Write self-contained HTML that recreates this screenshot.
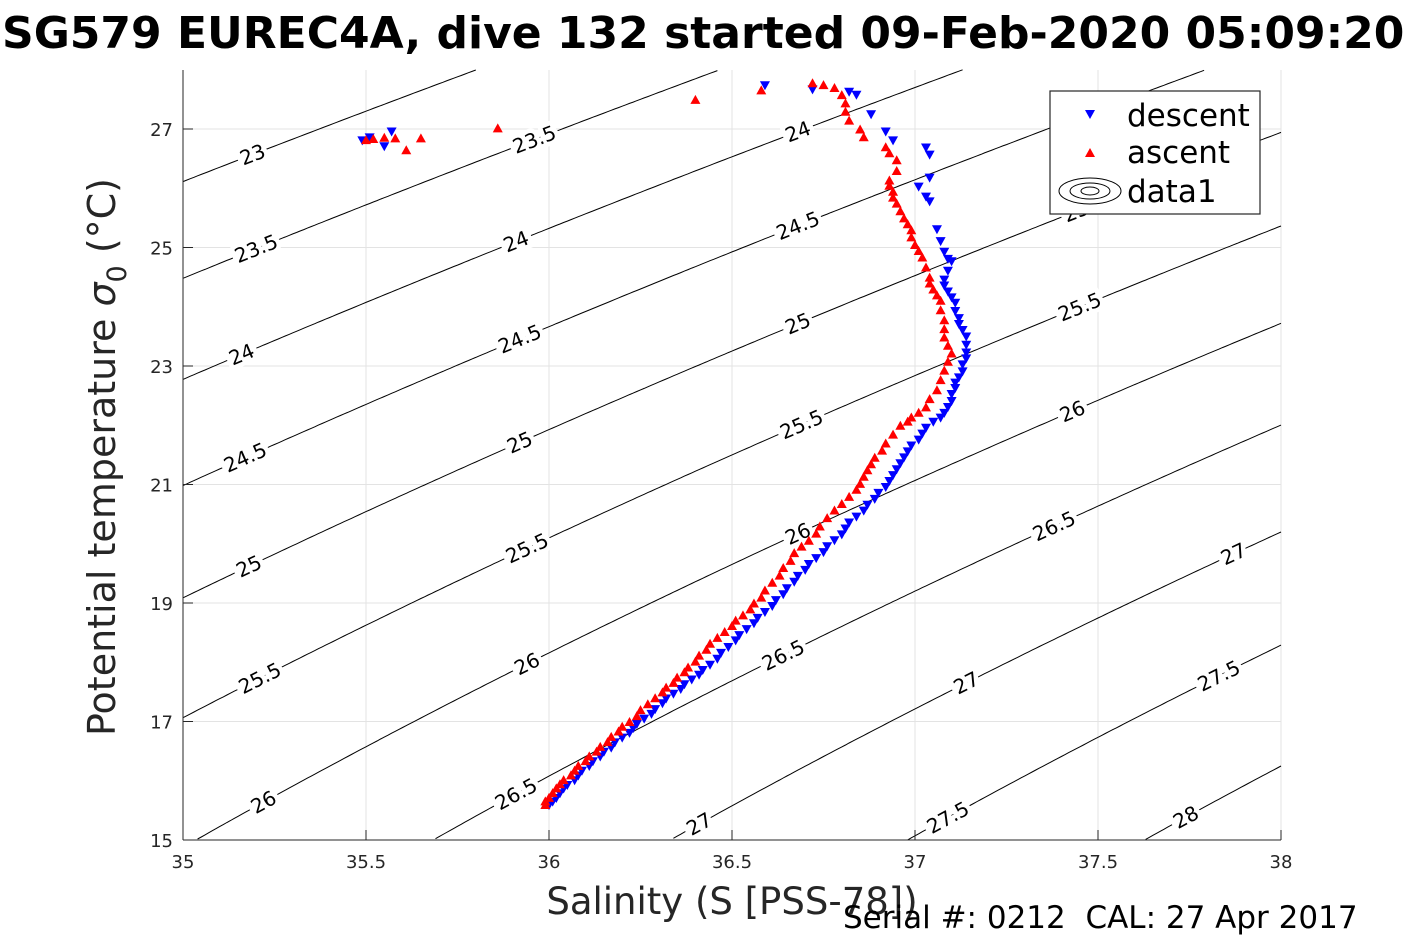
<!DOCTYPE html>
<html><head><meta charset="utf-8"><style>
body{margin:0;background:#fff;overflow:hidden}
svg{display:block;font-family:"Liberation Sans","DejaVu Sans",sans-serif}
</style></head><body>
<svg id="chart" width="1417" height="945" xmlns="http://www.w3.org/2000/svg">
<text x="2" y="48" font-size="44" font-weight="bold" font-family="DejaVu Sans, sans-serif">SG579 EUREC4A, dive 132 started 09-Feb-2020 05:09:20</text>
<g id="grid"></g><g id="contours"></g><g id="data"></g><g id="axes"></g>
<text x="732" y="914" font-size="37" text-anchor="middle" fill="#262626" font-family="DejaVu Sans, sans-serif">Salinity (S [PSS-78])</text>
<text transform="translate(115,457) rotate(-90)" font-size="38" text-anchor="middle" fill="#262626" font-family="DejaVu Sans, sans-serif">Potential temperature <tspan font-style="italic">σ</tspan><tspan font-size="27" dy="11">0</tspan><tspan dy="-11"> (°C)</tspan></text>
<text x="843" y="928" font-size="31" fill="#000" font-family="DejaVu Sans, sans-serif" style="white-space:pre">Serial #: 0212  CAL: 27 Apr 2017</text>
<g>
<rect x="1050" y="91" width="210" height="123" fill="#fff" stroke="#262626" stroke-width="1.2"/>
<path d="M1085,110 L1095,110 L1090,119 Z" fill="#00f"/>
<text x="1127" y="126" font-size="31" font-family="DejaVu Sans, sans-serif">descent</text>
<path d="M1085,157 L1095,157 L1090,148 Z" fill="#f00"/>
<text x="1127" y="163" font-size="31" font-family="DejaVu Sans, sans-serif">ascent</text>
<g fill="none" stroke="#000" stroke-width="1"><ellipse cx="1090" cy="191" rx="31" ry="13"/><ellipse cx="1090" cy="191" rx="20" ry="8"/><ellipse cx="1090" cy="191" rx="9" ry="4"/></g>
<text x="1127" y="202" font-size="31" font-family="DejaVu Sans, sans-serif">data1</text>
</g>
</svg>
<script>
const xTicks=[35,35.5,36,36.5,37,37.5,38];
const yTicks=[15,17,19,21,23,25,27];
const levels=[23,23.5,24,24.5,25,25.5,26,26.5,27,27.5,28];
const labelS={23:[35.19],23.5:[35.2,35.96],24:[35.16,35.91,36.68],24.5:[35.17,35.92,36.68],25:[35.18,35.92,36.68,37.44],25.5:[35.21,35.94,36.69,37.45],26:[35.22,35.94,36.68,37.43],26.5:[35.91,36.64,37.38],27:[36.41,37.14,37.87],27.5:[37.09,37.83],28:[37.74]};
// descent profile [salinity, temperature]
const descent=[[36.00,15.58],[36.01,15.64],[36.02,15.70],[36.03,15.78],[36.04,15.86],[36.05,15.92],[36.07,16.00],[36.08,16.08],[36.09,16.16],[36.11,16.24],[36.12,16.32],[36.14,16.40],[36.15,16.48],[36.17,16.55],[36.18,16.64],[36.20,16.72],[36.22,16.80],[36.23,16.88],[36.24,16.95],[36.26,17.04],[36.28,17.12],[36.29,17.20],[36.31,17.30],[36.32,17.38],[36.34,17.46],[36.36,17.54],[36.37,17.62],[36.39,17.70],[36.41,17.78],[36.42,17.86],[36.44,17.95],[36.46,18.05],[36.47,18.15],[36.49,18.25],[36.51,18.36],[36.52,18.45],[36.54,18.55],[36.56,18.65],[36.57,18.74],[36.59,18.84],[36.61,18.94],[36.62,19.04],[36.64,19.14],[36.65,19.24],[36.67,19.35],[36.68,19.45],[36.70,19.55],[36.71,19.65],[36.73,19.75],[36.75,19.85],[36.76,19.95],[36.78,20.05],[36.80,20.15],[36.81,20.25],[36.82,20.35],[36.84,20.45],[36.86,20.55],[36.87,20.65],[36.89,20.75],[36.90,20.85],[36.92,20.95],[36.93,21.05],[36.94,21.15],[36.95,21.25],[36.96,21.35],[36.97,21.45],[36.98,21.55],[36.99,21.65],[37.01,21.75],[37.02,21.85],[37.03,21.95],[37.05,22.05],[37.07,22.12],[37.08,22.20],[37.09,22.30],[37.10,22.40],[37.10,22.52],[37.11,22.62],[37.11,22.71],[37.12,22.80],[37.13,22.90],[37.13,23.02],[37.14,23.12],[37.14,23.22],[37.14,23.35],[37.14,23.49],[37.13,23.60],[37.12,23.70],[37.12,23.80],[37.11,23.92],[37.11,24.06],[37.10,24.15],[37.09,24.25],[37.08,24.35],[37.08,24.45],[37.09,24.60],[37.10,24.76],[37.09,24.80],[37.08,24.92],[37.07,25.10],[37.06,25.30],[37.04,25.77],[37.03,25.85],[37.01,26.02],[37.04,26.17],[37.04,26.56],[37.03,26.68],[36.94,26.80],[36.92,26.95],[36.88,27.24],[36.84,27.57],[36.82,27.62],[36.72,27.66],[36.59,27.73],[35.57,26.95],[35.55,26.70],[35.49,26.80],[35.51,26.85]];
// ascent profile [salinity, temperature]
const ascent=[[35.99,15.60],[35.99,15.66],[36.00,15.72],[36.01,15.80],[36.02,15.88],[36.03,15.95],[36.04,16.02],[36.06,16.10],[36.07,16.18],[36.08,16.26],[36.10,16.34],[36.11,16.42],[36.13,16.50],[36.14,16.58],[36.16,16.66],[36.17,16.75],[36.19,16.84],[36.20,16.92],[36.22,17.00],[36.24,17.10],[36.25,17.20],[36.27,17.30],[36.29,17.40],[36.31,17.50],[36.32,17.58],[36.34,17.66],[36.35,17.75],[36.37,17.84],[36.38,17.92],[36.40,18.02],[36.41,18.12],[36.43,18.22],[36.44,18.32],[36.46,18.42],[36.48,18.52],[36.50,18.62],[36.51,18.71],[36.53,18.80],[36.55,18.90],[36.56,19.00],[36.58,19.10],[36.59,19.22],[36.61,19.35],[36.63,19.47],[36.64,19.60],[36.66,19.72],[36.67,19.85],[36.69,19.96],[36.71,20.06],[36.73,20.18],[36.74,20.30],[36.76,20.44],[36.78,20.57],[36.80,20.68],[36.82,20.80],[36.84,20.92],[36.85,21.02],[36.86,21.14],[36.87,21.25],[36.88,21.35],[36.89,21.46],[36.91,21.58],[36.92,21.70],[36.94,21.85],[36.96,22.00],[36.98,22.07],[36.99,22.14],[37.01,22.22],[37.03,22.31],[37.04,22.45],[37.06,22.60],[37.07,22.77],[37.08,22.93],[37.09,23.08],[37.10,23.22],[37.09,23.35],[37.08,23.49],[37.08,23.63],[37.08,23.78],[37.07,23.95],[37.07,24.11],[37.06,24.20],[37.05,24.30],[37.04,24.40],[37.04,24.50],[37.03,24.67],[37.02,24.84],[37.01,24.95],[37.00,25.05],[36.99,25.18],[36.99,25.30],[36.98,25.40],[36.97,25.50],[36.96,25.62],[36.95,25.75],[36.94,25.85],[36.94,25.95],[36.93,26.05],[36.93,26.14],[36.95,26.30],[36.95,26.48],[36.93,26.60],[36.92,26.70],[36.86,26.87],[36.85,27.00],[36.82,27.15],[36.81,27.30],[36.81,27.44],[36.80,27.58],[36.78,27.70],[36.75,27.75],[36.72,27.78],[36.58,27.66],[36.40,27.50],[35.86,27.02],[35.65,26.85],[35.61,26.65],[35.58,26.85],[35.55,26.86],[35.52,26.84],[35.50,26.82]];

const X0=183,X1=1281,Y0=840,Y1=70;
const sx=s=>X0+(s-35)*(X1-X0)/3;
const sy=t=>Y0-(t-15)*59.25;
const NS='http://www.w3.org/2000/svg';
function mk(tag,attrs,parent){const e=document.createElementNS(NS,tag);for(const k in attrs)e.setAttribute(k,attrs[k]);parent.appendChild(e);return e;}
function sigma0(S,T){
 const rw=999.842594+6.793952e-2*T-9.095290e-3*T*T+1.001685e-4*T**3-1.120083e-6*T**4+6.536332e-9*T**5;
 const r=rw+S*(0.824493-4.0899e-3*T+7.6438e-5*T*T-8.2467e-7*T**3+5.3875e-9*T**4)+S**1.5*(-5.72466e-3+1.0227e-4*T-1.6546e-6*T*T)+4.8314e-4*S*S;
 return r-1000;}
function solveT(S,sig){let lo=-5,hi=40;for(let i=0;i<50;i++){const m=(lo+hi)/2;if(sigma0(S,m)>sig)lo=m;else hi=m;}return (lo+hi)/2;}
const grid=document.getElementById('grid'),cont=document.getElementById('contours'),dat=document.getElementById('data'),axes=document.getElementById('axes');
xTicks.forEach(v=>{const l=mk('line',{x1:sx(v),x2:sx(v),y1:Y1,y2:Y0,stroke:'#e3e3e3','stroke-width':1},grid);
});
yTicks.forEach(v=>{const l=mk('line',{x1:X0,x2:X1,y1:sy(v),y2:sy(v),stroke:'#e3e3e3','stroke-width':1},grid);
});
levels.forEach(lv=>{
 let d='';let on=false;
 for(let S=35;S<=38.0001;S+=0.01){const T=solveT(S,lv);
  if(T<15||T>28){on=false;continue;}
  d+=(on?'L':'M')+sx(S).toFixed(1)+','+sy(T).toFixed(1);on=true;}
 const p=mk('path',{d:d,fill:'none',stroke:'#000','stroke-width':1},cont);
 
 
 (labelS[lv]||[]).forEach(S=>{const T=solveT(S,lv);const x=sx(S),y=sy(T);
  const T2=solveT(S+0.05,lv);const ang=Math.atan2(sy(T2)-y,sx(S+0.05)-x)*180/Math.PI;
  const t=mk('text',{x:0,y:7,transform:`translate(${x},${y}) rotate(${ang})`,'text-anchor':'middle','font-size':20,'font-family':'DejaVu Sans, sans-serif',stroke:'#fff','stroke-width':9,'paint-order':'stroke'},cont);
  t.textContent=String(lv);
  
  });
});
descent.forEach(p=>{const x=sx(p[0]),y=sy(p[1]);
 const m=mk('path',{d:`M${x-5},${y-4.5} L${x+5},${y-4.5} L${x},${y+4.5} Z`,fill:'#00f'},dat);
 
 });
ascent.forEach(p=>{const x=sx(p[0]),y=sy(p[1]);
 const m=mk('path',{d:`M${x-5},${y+4.5} L${x+5},${y+4.5} L${x},${y-4.5} Z`,fill:'#f00'},dat);
 
 });
let a=mk('line',{x1:X0,x2:X1,y1:Y0,y2:Y0,stroke:'#262626','stroke-width':1},axes);

a=mk('line',{x1:X0,x2:X0,y1:Y1,y2:Y0,stroke:'#262626','stroke-width':1},axes);

xTicks.forEach(v=>{mk('line',{x1:sx(v),x2:sx(v),y1:Y0,y2:Y0-10,stroke:'#262626'},axes);
 const t=mk('text',{x:sx(v),y:868,'text-anchor':'middle','font-size':18,fill:'#262626','font-family':'DejaVu Sans, sans-serif'},axes);
 t.textContent=String(v);});
yTicks.forEach(v=>{mk('line',{x1:X0,x2:X0+10,y1:sy(v),y2:sy(v),stroke:'#262626'},axes);
 const t=mk('text',{x:173,y:sy(v)+7,'text-anchor':'end','font-size':18,fill:'#262626','font-family':'DejaVu Sans, sans-serif'},axes);
 t.textContent=String(v);});
</script>
</body></html>
